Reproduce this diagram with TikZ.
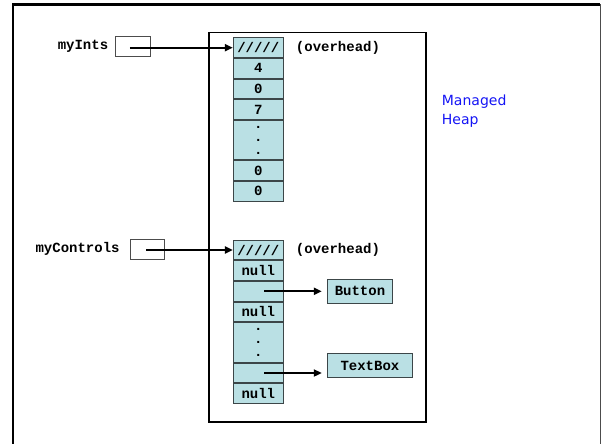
\documentclass[tikz,border=0pt]{standalone}
\usepackage{fontspec}
\setmonofont{Liberation Mono}
\newfontfamily\heapfont{DejaVu Sans}
\usetikzlibrary{arrows.meta,positioning}
\definecolor{cellblue}{RGB}{186,224,228}
\definecolor{cellline}{RGB}{60,70,72}
\definecolor{heapblue}{RGB}{20,20,245}
\tikzset{
  code/.style={font=\ttfamily\bfseries\fontsize{14}{13}\selectfont},
  cell/.style={code, draw=cellline, fill=cellblue, minimum width=50pt,
    minimum height=19.75pt, inner sep=0pt, line width=0.9pt},
  dotcell/.style={cell, minimum height=39.5pt, align=center},
  objbox/.style={cell, minimum height=24.3pt},
  var/.style={draw=black!70, line width=0.9pt, minimum width=34.5pt,
    minimum height=19.7pt, inner sep=0pt},
  ptr/.style={-{Triangle[length=8pt,width=7pt]}, line width=2pt},
}
\begin{document}
\begin{tikzpicture}[x=1pt,y=-1pt]
\useasboundingbox (0,0) rectangle (602,444);
% outer frame
\draw[line width=2.2pt] (13,450) -- (13,4.5) -- (600,4.5);
\draw[black!70, line width=0.9pt] (600.7,4.5) -- (600.7,450);
% managed heap
\draw[line width=1.6pt] (209,32.7) rectangle (425.7,421.7);
\node[anchor=west, align=left, text=heapblue, inner sep=0pt,
  font=\heapfont\fontsize{14}{19}\selectfont] (heap) at (441.7,111.5) {Managed\\Heap};
% int array
\node[cell] (a0) at (258.3,47.7) {/////};
\node[cell, below=0pt of a0] (a1) {4};
\node[cell, below=0pt of a1] (a2) {0};
\node[cell, below=0pt of a2] (a3) {7};
\node[dotcell, below=0pt of a3] (a4) {.\\.\\.};
\node[cell, below=0pt of a4] (a5) {0};
\node[cell, below=0pt of a5] (a6) {0};
\node[code, inner sep=0pt, right=12pt of a0] (oa) {(overhead)};
% control array
\node[cell] (b0) at (258.3,250) {/////};
\node[cell, below=0pt of b0] (b1) {null};
\node[cell, below=0pt of b1] (b2) {};
\node[cell, below=0pt of b2] (b3) {null};
\node[dotcell, below=0pt of b3] (b4) {.\\.\\.};
\node[cell, below=0pt of b4] (b5) {};
\node[cell, below=0pt of b5] (b6) {null};
\node[code, inner sep=0pt, right=12pt of b0] (ob) {(overhead)};
% objects
\node[objbox, minimum width=64.4pt, anchor=west] (btn) at (327.3,291.2) {Button};
\node[objbox, minimum width=84.4pt, anchor=west] (tbx) at (327.3,365.5) {TextBox};
% references
\node[var] (vi) at (132.8,46.3) {};
\node[code, inner sep=0pt, left=6.7pt of vi] (ni) {myInts};
\node[var] (vc) at (147.5,249.3) {};
\node[code, inner sep=0pt, left=10pt of vc] (nc) {myControls};
\draw[ptr] ([xshift=-3pt]vi.center |- a0.west) -- (a0.west);
\draw[ptr] ([xshift=-1.5pt]vc.center |- b0.west) -- (b0.west);
\draw[ptr, shorten >=5.5pt] ([xshift=6pt]b2.center) -- (b2.center -| btn.west);
\draw[ptr, shorten >=5.5pt] ([xshift=6pt]b5.center) -- (b5.center -| tbx.west);
\end{tikzpicture}
\end{document}
